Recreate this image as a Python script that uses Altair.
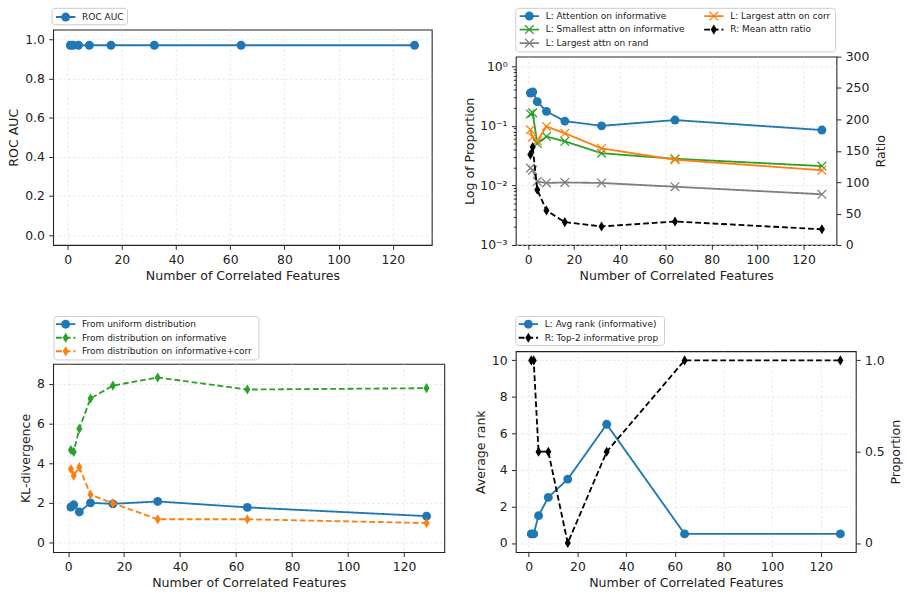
import altair as alt
import pandas as pd

# ---------------- data ----------------
n_corr = [1, 2, 4, 8, 16, 32, 64, 128]

roc_auc = [0.97, 0.97, 0.97, 0.97, 0.97, 0.97, 0.97, 0.97]

attn_informative = [0.356, 0.37, 0.254, 0.175, 0.120, 0.100, 0.125, 0.085]
smallest_informative = [0.158, 0.165, 0.0505, 0.066, 0.055, 0.0347, 0.028, 0.0211]
largest_rand = [0.0195, 0.018, 0.0116, 0.011, 0.0112, 0.011, 0.0095, 0.0071]
largest_corr = [0.086, 0.0646, 0.0557, 0.0975, 0.075, 0.0418, 0.027, 0.018]
mean_ratio = [144, 156, 88, 55, 36.5, 29.5, 37.4, 25]

kl_uniform = [1.79, 1.90, 1.54, 2.00, 1.95, 2.07, 1.77, 1.33]
kl_informative = [4.67, 4.57, 5.74, 7.27, 7.92, 8.33, 7.72, 7.79]
kl_informative_corr = [3.71, 3.37, 3.80, 2.41, 1.98, 1.17, 1.17, 0.98]

avg_rank = [0.5, 0.5, 1.5, 2.5, 3.5, 6.5, 0.5, 0.5]
top2_prop = [1.0, 1.0, 0.5, 0.5, 0.0, 0.5, 1.0, 1.0]

S_ROC = "ROC AUC"
S_ATT = "L: Attention on informative"
S_SMALL = "L: Smallest attn on informative"
S_RAND = "L: Largest attn on rand"
S_CORR = "L: Largest attn on corr"
S_RATIO = "R: Mean attn ratio"
S_UNI = "From uniform distribution"
S_INF = "From distribution on informative"
S_INFC = "From distribution on informative+corr"
S_RANK = "L: Avg rank (informative)"
S_TOP2 = "R: Top-2 informative prop"

series_names = [S_ROC, S_ATT, S_SMALL, S_RAND, S_CORR, S_RATIO,
                S_UNI, S_INF, S_INFC, S_RANK, S_TOP2]
series_colors = ["#1f77b4", "#1f77b4", "#2ca02c", "#7f7f7f", "#ff7f0e", "#000000",
                 "#1f77b4", "#2ca02c", "#ff7f0e", "#1f77b4", "#000000"]
SOLID = [1, 0]
DASHED = [6, 3]
series_dash = [SOLID, SOLID, SOLID, SOLID, SOLID, DASHED,
               SOLID, DASHED, DASHED, SOLID, DASHED]
series_marker = {S_ROC: "o", S_ATT: "o", S_SMALL: "x", S_RAND: "x", S_CORR: "x",
                 S_RATIO: "d", S_UNI: "o", S_INF: "d", S_INFC: "d", S_RANK: "o",
                 S_TOP2: "d"}

# ---------------- styling ----------------
FONT = "DejaVu Sans"
LW = 1.9
XPATH = "M-1,-1L1,1M-1,1L1,-1"
DPATH = "M0,-1L0.6,0L0,1L-0.6,0Z"

COLOR = alt.Color("series:N", scale=alt.Scale(domain=series_names, range=series_colors), legend=None)
DASH = alt.StrokeDash("series:N", scale=alt.Scale(domain=series_names, range=series_dash), legend=None)

X = alt.X("x:Q",
          scale=alt.Scale(domain=[-5.35, 134.35], nice=False, zero=False),
          axis=alt.Axis(values=[0, 20, 40, 60, 80, 100, 120], title="Number of Correlated Features"))


def long_df(pairs):
    rows = []
    for name, vals in pairs:
        for xv, v in zip(n_corr, vals):
            rows.append({"x": xv, "value": v, "series": name})
    return pd.DataFrame(rows)


def point_mark(base, marker):
    if marker == "o":
        return base.mark_point(filled=True, shape="circle", size=85, opacity=1)
    if marker == "x":
        return base.mark_point(filled=False, shape=XPATH, size=80, strokeWidth=1.3, opacity=1)
    return base.mark_point(filled=True, shape=DPATH, size=110, opacity=1)


def series_layers(df, names, y_enc):
    out = []
    for name in names:
        base = alt.Chart(df).transform_filter(alt.datum.series == name)
        out.append(base.mark_line(strokeWidth=LW).encode(x=X, y=y_enc, color=COLOR, strokeDash=DASH))
        out.append(point_mark(base, series_marker[name]).encode(x=X, y=y_enc, color=COLOR))
    return out


def legend_layers(names, x0, y0, row_h, n_rows, col_w, box, gap=0):
    bx1, bx2, by1, by2 = box
    one = pd.DataFrame({"k": [0]})
    layers = []
    if gap:
        # transparent spacer that keeps the gap above the legend box
        layers.append(alt.Chart(one).mark_rect(fillOpacity=0, strokeOpacity=0).encode(
            x=alt.value(bx1), x2=alt.value(bx1 + 10), y=alt.value(by1 - gap), y2=alt.value(by1)))
    layers.append(alt.Chart(one).mark_rect(
        fill="white", stroke="#cccccc", strokeWidth=1, cornerRadius=3
    ).encode(x=alt.value(bx1), x2=alt.value(bx2), y=alt.value(by1), y2=alt.value(by2)))
    base = alt.Chart(pd.DataFrame({"series": names})).transform_window(
        i="row_number()"
    ).transform_calculate(
        lx=f"{x0} + floor((datum.i - 1) / {n_rows}) * {col_w}",
        ly=f"{y0} + ((datum.i - 1) % {n_rows}) * {row_h}",
    ).transform_calculate(
        lx2="datum.lx + 20", lxm="datum.lx + 10", ltx="datum.lx + 27"
    )
    LY = alt.Y("ly:Q", scale=None)
    layers.append(base.mark_rule(strokeWidth=LW).encode(
        x=alt.X("lx:Q", scale=None), x2="lx2:Q", y=LY, color=COLOR, strokeDash=DASH))
    for mk in ["o", "x", "d"]:
        sel = [n for n in names if series_marker[n] == mk]
        if sel:
            b = base.transform_filter(alt.FieldOneOfPredicate(field="series", oneOf=sel))
            layers.append(point_mark(b, mk).encode(x=alt.X("lxm:Q", scale=None), y=LY, color=COLOR))
    layers.append(base.mark_text(align="left", baseline="middle", fontSize=9.3, font=FONT,
                                 color="#222222").encode(
        x=alt.X("ltx:Q", scale=None), y=LY, text="series:N"))
    return layers


# ---------------- panel 1: ROC AUC ----------------
df1 = long_df([(S_ROC, roc_auc)])
y1 = alt.Y("value:Q", scale=alt.Scale(domain=[-0.05, 1.05], nice=False, zero=False),
           axis=alt.Axis(values=[0, 0.2, 0.4, 0.6, 0.8, 1.0], format=".1f", title="ROC AUC"))
p1 = alt.layer(
    *series_layers(df1, [S_ROC], y1),
    *legend_layers([S_ROC], 3, -13, 14, 1, 0, (-1, 77, -22, -5)),
).properties(width=392, height=223)

# ---------------- panel 2: attention proportions ----------------
df2 = long_df([(S_ATT, attn_informative), (S_SMALL, smallest_informative),
               (S_RAND, largest_rand), (S_CORR, largest_corr)])
df2r = long_df([(S_RATIO, mean_ratio)])
log_vals = [m * 10.0 ** k for k in (-3, -2, -1) for m in range(1, 10)] + [1.0]
MAJOR = "datum.value == 1 || datum.value == 0.1 || datum.value == 0.01 || datum.value == 0.001"
y2 = alt.Y("value:Q",
           scale=alt.Scale(type="log", domain=[0.001, 1.45], nice=False),
           axis=alt.Axis(values=log_vals, title="Log of Proportion", orient="left",
                         labelExpr="datum.value == 1 ? '10⁰' : datum.value == 0.1 ? '10⁻¹' : "
                                   "datum.value == 0.01 ? '10⁻²' : datum.value == 0.001 ? '10⁻³' : ''",
                         tickSize={"condition": {"test": MAJOR, "value": 4.5}, "value": 2.5},
                         gridOpacity={"condition": {"test": MAJOR, "value": 1}, "value": 0}))
y2r = alt.Y("value:Q", scale=alt.Scale(domain=[0, 300], nice=False, zero=False),
            axis=alt.Axis(values=[0, 50, 100, 150, 200, 250, 300], title="Ratio", orient="right",
                          grid=False, titleAngle=270, titleBaseline="top", titlePadding=6))
p2 = alt.layer(
    alt.layer(*series_layers(df2, [S_ATT, S_SMALL, S_RAND, S_CORR], y2)),
    alt.layer(*series_layers(df2r, [S_RATIO], y2r)),
    *legend_layers([S_ATT, S_SMALL, S_RAND, S_CORR, S_RATIO], 4, -42, 14, 3, 191, (0, 331, -50, -5)),
).resolve_scale(y="independent").properties(width=332, height=195)

# ---------------- panel 3: KL divergence ----------------
df3 = long_df([(S_UNI, kl_uniform), (S_INF, kl_informative), (S_INFC, kl_informative_corr)])
y3 = alt.Y("value:Q", scale=alt.Scale(domain=[-0.49, 9.02], nice=False, zero=False),
           axis=alt.Axis(values=[0, 2, 4, 6, 8], title="KL-divergence"))
p3 = alt.layer(
    *series_layers(df3, [S_UNI, S_INF, S_INFC], y3),
    *legend_layers([S_UNI, S_INF, S_INFC], 3, -41, 14, 3, 0, (1, 213, -49, -4), gap=33),
).properties(width=405, height=195)

# ---------------- panel 4: rank ----------------
df4 = long_df([(S_RANK, avg_rank)])
df4r = long_df([(S_TOP2, top2_prop)])
y4 = alt.Y("value:Q", scale=alt.Scale(domain=[-0.5, 10.5], nice=False, zero=False),
           axis=alt.Axis(values=[0, 2, 4, 6, 8, 10], title="Average rank", orient="left"))
y4r = alt.Y("value:Q", scale=alt.Scale(domain=[-0.05, 1.05], nice=False, zero=False),
            axis=alt.Axis(values=[0, 0.5, 1.0], title="Proportion", orient="right", grid=False,
                          titleAngle=270, titleBaseline="top", titlePadding=6,
                          labelExpr="datum.value == 0 ? '0' : format(datum.value, '.1f')"))
p4 = alt.layer(
    alt.layer(*series_layers(df4, [S_RANK], y4)),
    alt.layer(*series_layers(df4r, [S_TOP2], y4r)),
    *legend_layers([S_RANK, S_TOP2], 3, -28, 14, 2, 0, (0, 154, -36, -6), gap=33),
).resolve_scale(y="independent").properties(width=352, height=208)


def spacer():
    return alt.Chart(pd.DataFrame({"k": [0]})).mark_rect(fillOpacity=0, strokeOpacity=0).encode(
        x=alt.value(0), x2=alt.value(1), y=alt.value(0), y2=alt.value(1)
    ).properties(width=1, height=1, view=alt.ViewBackground(strokeOpacity=0))


col_left = alt.concat(spacer(), p1, p3, columns=1, spacing=0, align="none", bounds="full")
col_right = alt.concat(spacer(), p2, p4, columns=1, spacing=0, align="none", bounds="full")

chart = alt.concat(
    col_left, col_right, columns=2, spacing=18, align="none", bounds="full"
).properties(
    padding={"left": 8, "top": -5, "right": 4, "bottom": 2}, background="white"
).configure_view(
    stroke="#222222", strokeWidth=1.1
).configure_axis(
    domain=False, labelFont=FONT, labelFontSize=12.8, titleFont=FONT, titleFontSize=13,
    titleFontWeight="normal", labelColor="#222222", titleColor="#222222",
    tickColor="#222222", tickSize=4.5, tickWidth=1, labelPadding=4.5, titlePadding=4,
    gridColor="#dddddd", gridDash=[2.5, 2.5], gridWidth=0.7, labelFlush=False,
    labelOverlap=False
)

chart.save("out.html", embed_options={"renderer": "svg", "actions": False})
